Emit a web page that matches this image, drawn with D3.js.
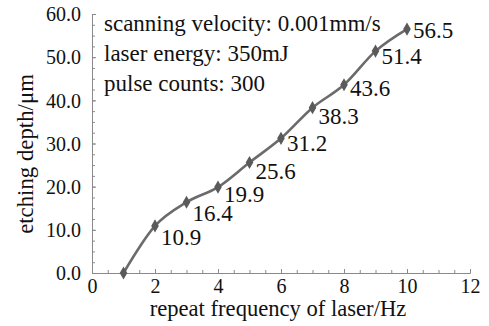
<!DOCTYPE html>
<html>
<head>
<meta charset="utf-8">
<script src="https://cdn.jsdelivr.net/npm/d3@7"></script>
<style>
  body { margin: 0; background: #fff; }
  svg text { font-family: "Liberation Serif", "Times New Roman", Times, serif; fill: #111; }
  .axis path, .axis line { stroke: #8a8a8a; }
</style>
</head>
<body>
<svg id="chart" width="489" height="326"></svg>
<script>
// repeat frequency (Hz) vs etching depth (um)
const frequency = [1, 2, 3, 4, 5, 6, 7, 8, 9, 10];
const depth = [0.0, 10.9, 16.4, 19.9, 25.6, 31.2, 38.3, 43.6, 51.4, 56.5];
const depthLabels = ['', '10.9', '16.4', '19.9', '25.6', '31.2', '38.3', '43.6', '51.4', '56.5'];
const xTicks = [0, 2, 4, 6, 8, 10, 12];
const yTicks = [0, 10, 20, 30, 40, 50, 60];
const notes = ['scanning velocity: 0.001mm/s', 'laser energy: 350mJ', 'pulse counts: 300'];

// vertical nudge of each value label (px), labels sit to the lower right of the marker
const labelDy = [0, 11, 11, 7, 8, 5, 8, 3, 5, 1];

const svg = d3.select('#chart');
const margins = { top: 14, right: 19, bottom: 53, left: 92 };
const width = 489, height = 326;

const x = d3.scaleLinear().domain([0, 12]).range([margins.left, width - margins.right]);
const y = d3.scaleLinear().domain([0, 60]).range([height - margins.bottom, margins.top]);

// minor ticks first, then the main axis on top
svg.append('g').attr('class', 'axis')
    .attr('transform', `translate(0,${y(0)})`)
    .call(d3.axisBottom(x).tickValues(d3.range(0, 12.01, 0.5)).tickFormat('').tickSizeInner(-3).tickSizeOuter(0));
svg.append('g').attr('class', 'axis')
    .attr('transform', `translate(${x(0)},0)`)
    .call(d3.axisLeft(y).tickValues(d3.range(0, 60.01, 2.5)).tickFormat('').tickSizeInner(-3).tickSizeOuter(0));

const xAxis = svg.append('g').attr('class', 'axis')
    .attr('transform', `translate(0,${y(0)})`)
    .call(d3.axisBottom(x).tickValues(xTicks).tickFormat(d3.format('d')).tickSizeInner(-4).tickSizeOuter(0));
const yAxis = svg.append('g').attr('class', 'axis')
    .attr('transform', `translate(${x(0)},0)`)
    .call(d3.axisLeft(y).tickValues(yTicks).tickFormat(d3.format('.1f')).tickSizeInner(-4).tickSizeOuter(0).tickPadding(11));

// d3 axis sets its own font-family on the group, so clear it
xAxis.attr('font-family', null);
yAxis.attr('font-family', null);
xAxis.selectAll('text').attr('font-size', 20).attr('y', 20).attr('dy', 0);
yAxis.selectAll('text').attr('font-size', 20).attr('dy', '0.34em');

// axis titles
svg.append('text')
    .attr('x', (x(0) + x(12)) / 2 - 3).attr('y', 316)
    .attr('text-anchor', 'middle').attr('font-size', 22.6)
    .text('repeat frequency of laser/Hz');
svg.append('text')
    .attr('transform', `translate(33,154) rotate(-90)`)
    .attr('text-anchor', 'middle').attr('font-size', 22.8)
    .text('etching depth/μm');

// notes in the upper left
svg.append('g').selectAll('text').data(notes).enter().append('text')
    .attr('x', 104).attr('y', (d, i) => 31 + i * 30)
    .attr('font-size', 23)
    .text((d) => d);

const points = frequency.map((f, i) => ({ f: f, v: depth[i], label: depthLabels[i], dy: labelDy[i] }));

const line = d3.line().curve(d3.curveMonotoneX).x((d) => x(d.f)).y((d) => y(d.v));
svg.append('path').datum(points)
    .attr('d', line)
    .attr('fill', 'none')
    .attr('stroke', '#6b6b6b')
    .attr('stroke-width', 2.6);

svg.append('g').selectAll('path').data(points).enter().append('path')
    .attr('transform', (d) => `translate(${x(d.f)},${y(d.v)})`)
    .attr('d', d3.symbol().type(d3.symbolDiamond).size(50))
    .attr('fill', '#5a5a5a');

svg.append('g').selectAll('text').data(points).enter().append('text')
    .attr('x', (d) => x(d.f) + 6)
    .attr('y', (d) => y(d.v) + d.dy)
    .attr('dy', '0.35em')
    .attr('font-size', 23)
    .text((d) => d.label);
</script>
</body>
</html>
